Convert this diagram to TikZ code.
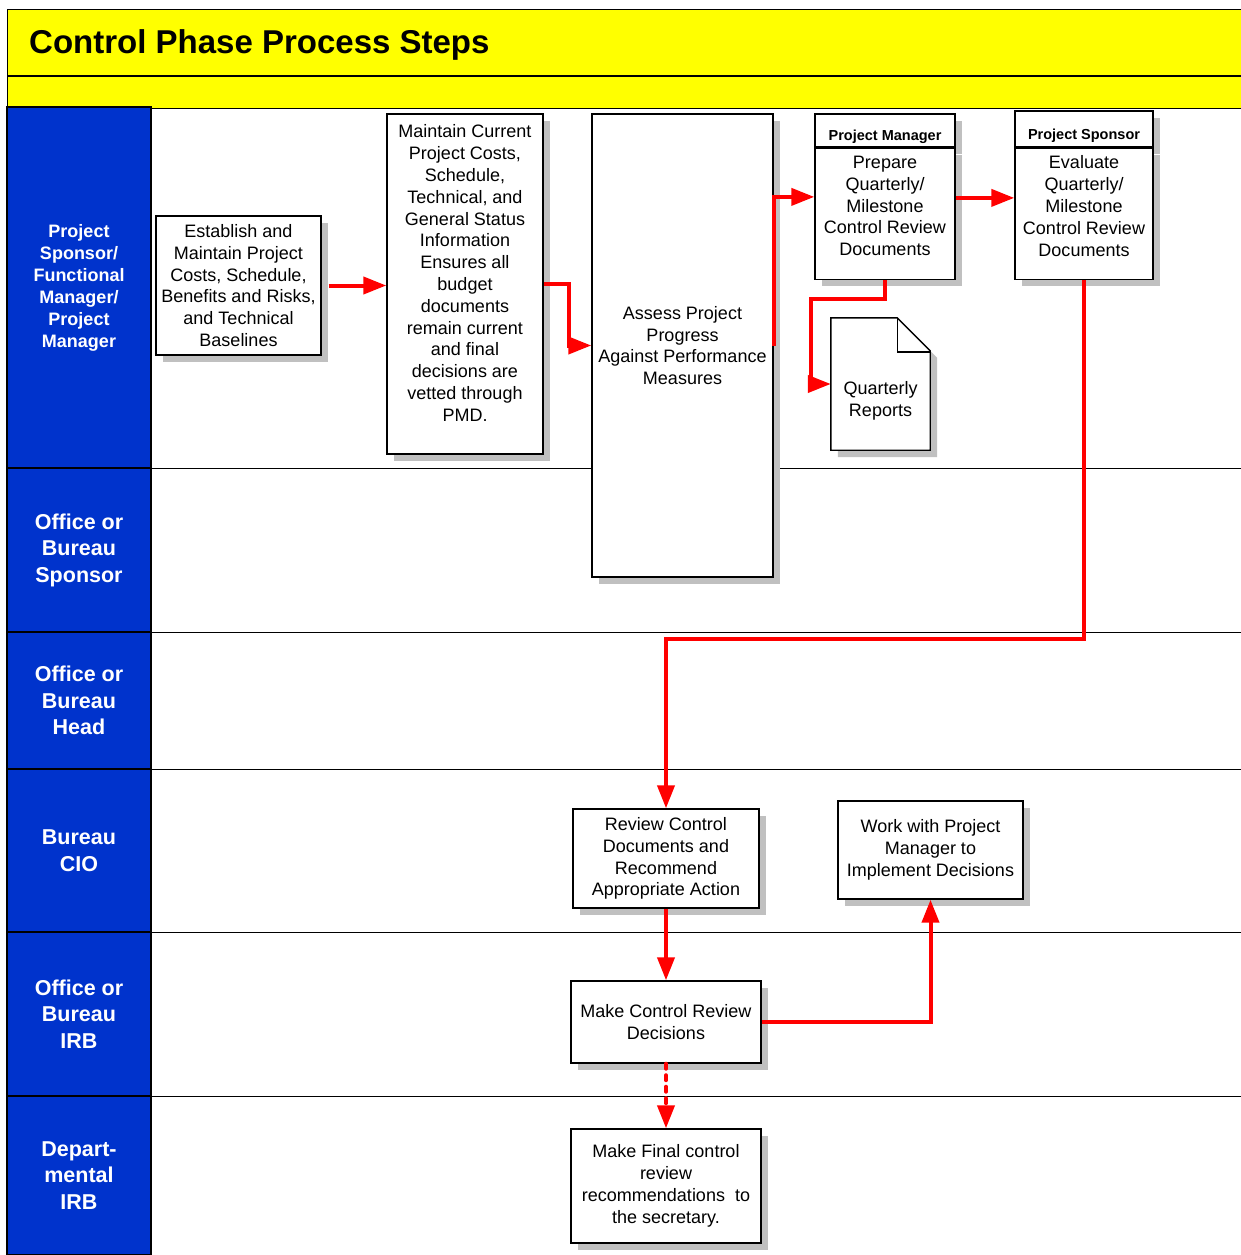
\documentclass[tikz,border=0pt]{standalone}
\usepackage{fontspec}
\setmainfont{Liberation Sans}
\definecolor{laneblue}{RGB}{0, 51, 204}
\definecolor{headyellow}{RGB}{255, 255, 0}
\definecolor{flowred}{RGB}{255, 0, 0}
\definecolor{shadegray}{RGB}{192, 192, 192}
\usetikzlibrary{arrows.meta, positioning, calc, shadows}

\tikzset{
  stepbox/.style={draw, line width=1.4pt, fill=white, align=center, inner sep=2pt,
    font=\fontsize{18}{21.8}\selectfont,
    drop shadow={shadow xshift=7pt, shadow yshift=-7pt, fill=shadegray, opacity=1}},
  headbox/.style={stepbox, font=\fontsize{14.5}{17}\selectfont\bfseries, text height=20pt, text depth=0pt},
  lanebox/.style={draw, line width=1.4pt, fill=laneblue, text=white, align=center,
    minimum width=144pt, inner sep=2pt, font=\fontsize{21.5}{26.5}\selectfont\bfseries},
  barbox/.style={draw, line width=1.2pt, fill=headyellow, minimum width=1234pt, inner sep=0pt},
  flow/.style={draw=flowred, line width=4pt, -{Triangle[length=23pt, width=17pt]}},
  laneline/.style={line width=1.4pt}
}

\begin{document}
\begin{tikzpicture}[x=1pt, y=-1pt]
  \useasboundingbox (0,0) rectangle (1241,1255);

  % Title bar
  \node[barbox, minimum height=66pt, anchor=north west] (titlebar) at (7,9) {};
  \node[barbox, minimum height=32pt, anchor=north west] (subbar) at (titlebar.south west) {};
  \node[anchor=base west, inner sep=0pt, font=\fontsize{33}{38}\selectfont\bfseries] (title) at (29,53) {Control Phase Process Steps};

  % Swim lanes
  \node[lanebox, minimum height=361pt, font=\fontsize{18}{22}\selectfont\bfseries] (lane1) at (79,287.5) {Project\\Sponsor/\\Functional\\Manager/\\Project\\Manager};
  \node[lanebox, minimum height=164pt] (lane2) at (79,550) {Office or\\Bureau\\Sponsor};
  \node[lanebox, minimum height=137pt] (lane3) at (79,700.5) {Office or\\Bureau\\Head};
  \node[lanebox, minimum height=163pt] (lane4) at (79,850.5) {Bureau\\CIO};
  \node[lanebox, minimum height=164pt] (lane5) at (79,1014) {Office or\\Bureau\\IRB};
  \node[lanebox, minimum height=159pt] (lane6) at (79,1175.5) {Depart-\\mental\\IRB};
  \foreach \l in {1,...,5}
    \draw[laneline] (lane\l.south east) -- ++(1090,0);

  % Steps
  \node[stepbox, minimum width=165pt, minimum height=139pt] (est) at (238.5,285.5) {Establish and\\Maintain Project\\Costs, Schedule,\\Benefits and Risks,\\and Technical\\Baselines};
  \node[stepbox, minimum width=156pt, minimum height=340pt, text depth=22pt] (maint) at (465,284) {Maintain Current\\Project Costs,\\Schedule,\\Technical, and\\General Status\\Information\\Ensures all\\budget\\documents\\remain current\\and final\\decisions are\\vetted through\\PMD.};
  \node[stepbox, minimum width=181pt, minimum height=463pt] (assess) at (682.5,345.5) {Assess Project\\Progress\\Against Performance\\Measures};

  % Project Manager / Project Sponsor boxes
  \node[headbox, minimum width=140pt, minimum height=33pt] (pmhead) at (885,130.5) {Project Manager};
  \node[stepbox, minimum width=140pt, minimum height=131pt, anchor=north, text depth=16pt] (pmbody) at (pmhead.south) {Prepare\\Quarterly/\\Milestone\\Control Review\\Documents};
  \node[headbox, minimum width=138pt, minimum height=36pt] (pshead) at (1084,129) {Project Sponsor};
  \node[stepbox, minimum width=138pt, minimum height=131pt, anchor=north, text depth=16pt] (psbody) at (pshead.south) {Evaluate\\Quarterly/\\Milestone\\Control Review\\Documents};

  % Quarterly Reports document
  \node[minimum width=99pt, minimum height=132pt, inner sep=0pt] (qr) at (880.5,384) {};
  \draw[line width=1.4pt, fill=white, drop shadow={shadow xshift=7pt, shadow yshift=-7pt, fill=shadegray, opacity=1}]
    (qr.north west) -- ([xshift=-33pt]qr.north east) -- ([yshift=-33pt]qr.north east)
    -- (qr.south east) -- (qr.south west) -- cycle;
  \draw[line width=1.4pt] ([xshift=-33pt]qr.north east) |- ([yshift=-34pt]qr.north east);
  \node[align=center, font=\fontsize{18}{21.8}\selectfont] (qrtext) at (880.5,401) {Quarterly\\Reports};

  % Lower lanes
  \node[stepbox, minimum width=186pt, minimum height=99pt] (review) at (666,858.5) {Review Control\\Documents and\\Recommend\\Appropriate Action};
  \node[stepbox, minimum width=185pt, minimum height=98pt] (work) at (930.5,850) {Work with Project\\Manager to\\Implement Decisions};
  \node[stepbox, minimum width=190pt, minimum height=82pt] (decide) at (666,1022) {Make Control Review\\Decisions};
  \node[stepbox, minimum width=190pt, minimum height=114pt] (final) at (666,1186) {Make Final control\\review\\recommendations\ \ to\\the secretary.};

  % Flow
  \draw[flow] ([xshift=7pt]est.east) -- (est.east -| maint.west);
  \draw[flow] (maint.east) -- ++(25,0) |- (assess.west);
  \draw[flow] (assess.east) |- ([yshift=17pt]pmbody.west);
  \draw[flow] ([yshift=16pt]pmbody.east) -- ([yshift=16pt]pmbody.east -| psbody.west);
  \draw[flow] (pmbody.south) -- ++(0,19) -| ([xshift=-20pt]qr.west) -- (qr.west);
  \draw[flow] (psbody.south) -- ++(0,359) -| (review.north);
  \draw[flow] (review) -- (decide);
  \draw[flow] (decide.east) -| (work.south);
  \draw[flow, dash pattern=on 5pt off 6.5pt, line cap=round] (decide) -- (final);
\end{tikzpicture}
\end{document}
